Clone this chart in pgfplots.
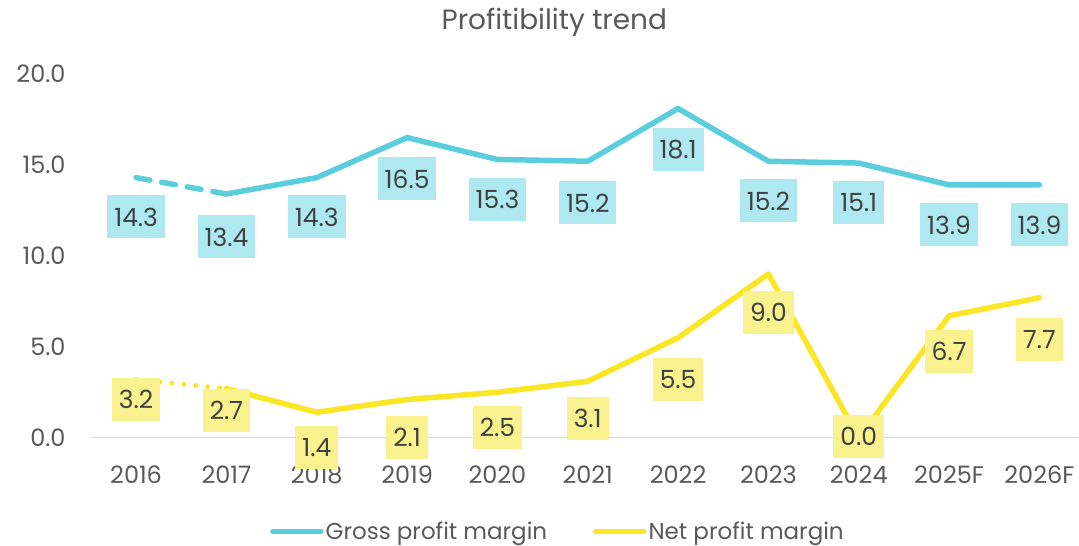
\documentclass[border=0pt]{standalone}
\usepackage{fontspec}
\setmainfont{Poppins}
\usepackage{pgfplots}
\usepackage{pgfplotstable}
\pgfplotsset{compat=1.18}
\definecolor{gline}{HTML}{5BCEDE}
\definecolor{gfill}{HTML}{AEE8F0}
\definecolor{nline}{HTML}{FBE625}
\definecolor{nfill}{HTML}{FAF28E}
\definecolor{txt}{HTML}{404040}
\definecolor{tick}{HTML}{595959}
\definecolor{axisgrey}{HTML}{D9D9D9}

\pgfplotstableread{
x y ly v
0 14.3 12.14 14.3
1 13.4 11.04 13.4
2 14.3 12.14 14.3
3 16.5 14.23 16.5
4 15.3 13.08 15.3
5 15.2 12.91 15.2
6 18.1 15.82 18.1
7 15.2 13.02 15.2
8 15.1 12.91 15.1
9 13.9 11.70 13.9
10 13.9 11.70 13.9
}\gross
\pgfplotstableread{
x y ly v
0 3.2 2.09 3.2
1 2.7 1.48 2.7
2 1.4 -0.55 1.4
3 2.1 0.00 2.1
4 2.5 0.55 2.5
5 3.1 1.04 3.1
6 5.5 3.19 5.5
7 9.0 6.87 9.0
8 0.0 0.05 0.0
9 6.7 4.73 6.7
10 7.7 5.38 7.7
}\net

\begin{document}
\begin{tikzpicture}
\begin{axis}[
  scale only axis,
  width=988pt, height=364pt,
  xmin=-0.5, xmax=10.43,
  ymin=0, ymax=20,
  clip=false,
  axis line style={draw=none},
  xtick={0,...,10},
  xticklabels={2016,2017,2018,2019,2020,2021,2022,2023,2024,2025F,2026F},
  ytick={0,5,10,15,20},
  major tick length=0pt,
  /pgf/number format/assume math mode=true,
  yticklabel={\pgfmathprintnumber[fixed,fixed zerofill,precision=1]{\tick}},
  ticklabel style={font=\fontsize{24}{28}\selectfont, text=tick},
  yticklabel style={xshift=-22pt},
  xticklabel style={yshift=-25pt},
  legend columns=2,
  legend style={at={(0.473,-0.258)}, anchor=center, draw=none, fill=none,
    font=\fontsize{23}{27}\selectfont, text=tick,
    /tikz/every even column/.append style={column sep=44pt},
    inner sep=0pt},
  legend image code/.code={\draw[#1, line width=5.5pt, line cap=round] (0pt,0pt) -- (48pt,0pt);},
]
% x axis line
\draw[axisgrey, line width=1.5pt] (axis cs:-0.5,0) -- (axis cs:10.43,0);
% title
\node[font=\fontsize{28}{32}\selectfont, text=tick] at (axis cs:4.63,22.86) {Profitibility trend};

% dashed/dotted first segments
\addplot[gline, line width=5.5pt, dash pattern=on 14pt off 12pt, line cap=round, forget plot] table[x=x,y=y] {
x y
0 14.3
1 13.4
};
\addplot[nline, line width=5pt, dash pattern=on 0pt off 12pt, line cap=round, forget plot] table[x=x,y=y] {
x y
0 3.2
1 2.7
};
% main lines
\addplot[gline, line width=5.5pt, line join=round, line cap=round] table[x=x,y=y, skip coords between index={0}{1}] {\gross};
\addlegendentry{Gross profit margin}
\addplot[nline, line width=5.5pt, line join=round, line cap=round] table[x=x,y=y, skip coords between index={0}{1}] {\net};
\addlegendentry{Net profit margin}

% labels
\addplot[draw=none, forget plot, nodes near coords, point meta=explicit symbolic,
  nodes near coords style={anchor=center, fill=gfill, text=txt, inner xsep=7pt, inner ysep=0pt,
    minimum height=43pt, font=\fontsize{25}{29}\selectfont}]
  table[x=x, y=ly, meta=v] {\gross};
\addplot[draw=none, forget plot, nodes near coords, point meta=explicit symbolic,
  nodes near coords style={anchor=center, fill=nfill, text=txt, inner xsep=7pt, inner ysep=0pt,
    minimum height=43pt, font=\fontsize{25}{29}\selectfont}]
  table[x=x, y=ly, meta=v] {\net};
\end{axis}
\path[use as bounding box] (-91pt,-108pt) rectangle (988pt,438pt);
\end{tikzpicture}
\end{document}
